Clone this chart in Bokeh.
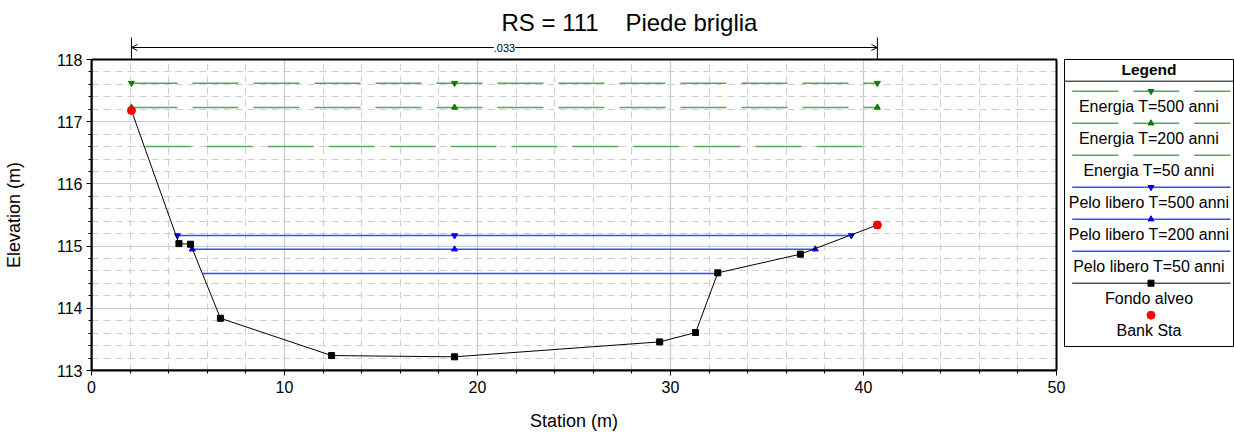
from bokeh.plotting import figure
from bokeh.models import Range1d, FixedTicker, Arrow, OpenHead, Label, LinearAxis
from bokeh.core.properties import value
from bokeh.embed import file_html
from bokeh.resources import INLINE

FONT = "Liberation Sans"

title_text = "RS = 111    Piede briglia"
x_label = "Station (m)"
y_label = "Elevation (m)"

# Ground profile (Fondo alveo)
ground_sta = [2.07, 4.53, 5.13, 6.68, 12.44, 18.81, 29.44, 31.30, 32.45, 36.73, 40.72]
ground_elev = [117.18, 115.04, 115.03, 113.84, 113.24, 113.22, 113.46, 113.61, 114.57, 114.87, 115.34]

# Bank stations
bank_sta = [2.07, 40.72]
bank_elev = [117.18, 115.34]
n_value = ".033"

# Energy grade lines
eg500_sta = [2.07, 18.81, 40.72]
eg500_elev = 117.62
eg200_sta = [2.07, 18.81, 40.72]
eg200_elev = 117.23
eg50_sta = [2.80, 40.20]
eg50_elev = 116.60

# Water surfaces
ws500_sta = [4.45, 18.81, 39.37]
ws500_elev = 115.17
ws200_sta = [5.22, 18.81, 37.50]
ws200_elev = 114.95
ws50_sta = [5.78, 32.45]
ws50_elev = 114.56

x_ticks = [0, 10, 20, 30, 40, 50]
y_ticks = [113, 114, 115, 116, 117, 118]
x_minor = list(range(0, 51, 2))
y_minor = [round(113 + 0.2 * i, 1) for i in range(26)]

legend_labels = ["Energia T=500 anni", "Energia T=200 anni", "Energia T=50 anni",
                 "Pelo libero T=500 anni", "Pelo libero T=200 anni", "Pelo libero T=50 anni",
                 "Fondo alveo", "Bank Sta"]

GREEN = "#55aa55"
GREEN_M = "#008000"
BLUE = "#4646ff"
BLUE_M = "#0000ff"
EG_DASH = "46 15"
NBSP = "\u00a0"

# page layout (pixels)
W, H = 1234, 436
FL, FR, FT, FB = 91, 1056, 59, 370      # plot box edges on the page
xmin, xmax = x_ticks[0], x_ticks[-1]
ymin, ymax = y_ticks[0], y_ticks[-1]
X_END = xmin + (xmax - xmin) * (W - FL) / (FR - FL)
Y_END = ymin + (ymax - ymin) * FB / (FB - FT)

p = figure(width=W, height=H, x_range=Range1d(xmin, X_END), y_range=Range1d(ymin, Y_END),
           toolbar_location=None, output_backend="svg", title=None,
           min_border_left=FL, min_border_right=0, min_border_top=0, min_border_bottom=H - FB)
p.extra_x_ranges = {"px": Range1d(FL, W)}
p.extra_y_ranges = {"py": Range1d(FB, 0)}
p.outline_line_color = None

p.xaxis.ticker = FixedTicker(ticks=x_ticks, minor_ticks=x_minor)
p.yaxis.ticker = FixedTicker(ticks=y_ticks, minor_ticks=y_minor)
p.xaxis.bounds = (xmin, xmax)
p.yaxis.bounds = (ymin, ymax)
for ax in (p.xaxis[0], p.yaxis[0]):
    ax.axis_line_color = "black"
    ax.axis_line_width = 2
    ax.major_tick_out = 5
    ax.major_tick_in = 0
    ax.minor_tick_out = 3
    ax.minor_tick_in = 0
    ax.major_tick_line_color = "black"
    ax.minor_tick_line_color = "black"
    ax.major_label_text_font = FONT
    ax.major_label_text_font_size = "16px"
    ax.major_label_text_color = "black"
p.xaxis.major_label_standoff = 5
p.yaxis.major_label_standoff = 4

# Axis titles: one labelled tick at the middle of each axis
x_mid = (xmin + xmax) / 2
y_mid = (ymin + ymax) / 2
xlab_axis = LinearAxis(ticker=FixedTicker(ticks=[x_mid]), major_label_overrides={x_mid: x_label},
                       axis_line_color=None, major_tick_line_color=None, major_tick_out=0,
                       major_tick_in=0, minor_tick_out=0, minor_tick_in=0,
                       major_label_standoff=15, major_label_text_font=FONT,
                       major_label_text_font_size="18px", major_label_text_color="black")
ylab_axis = LinearAxis(ticker=FixedTicker(ticks=[y_mid]), major_label_overrides={y_mid: y_label},
                       axis_line_color=None, major_tick_line_color=None, major_tick_out=0,
                       major_tick_in=0, minor_tick_out=0, minor_tick_in=0,
                       major_label_standoff=30, major_label_orientation="vertical",
                       major_label_text_font=FONT,
                       major_label_text_font_size="18px", major_label_text_color="black")
p.add_layout(xlab_axis, "below")
p.add_layout(ylab_axis, "left")

p.xgrid.bounds = (xmin, xmax)
p.ygrid.bounds = (ymin, ymax)
p.xgrid.cross_bounds = (ymin, ymax)
p.ygrid.cross_bounds = (xmin, xmax)
for g in (p.xgrid[0], p.ygrid[0]):
    g.grid_line_color = "#c8c8c8"
    g.grid_line_width = 1.2
    g.minor_grid_line_color = "#cfcfcf"
    g.minor_grid_line_dash = "7 5"
    g.minor_grid_line_width = 1

# Plot box
p.quad(left=[xmin], right=[xmax], bottom=[ymin], top=[ymax], fill_color=None,
       line_color="black", line_width=2)

# Energy lines
p.line(eg500_sta, [eg500_elev] * len(eg500_sta), line_color=GREEN, line_width=1.5, line_dash=EG_DASH)
p.scatter(eg500_sta, [eg500_elev] * len(eg500_sta), marker="inverted_triangle", size=6,
          fill_color=GREEN_M, line_color=GREEN_M)
p.line(eg200_sta, [eg200_elev] * len(eg200_sta), line_color=GREEN, line_width=1.5, line_dash=EG_DASH)
p.scatter(eg200_sta, [eg200_elev] * len(eg200_sta), marker="triangle", size=6,
          fill_color=GREEN_M, line_color=GREEN_M)
p.line(eg50_sta, [eg50_elev] * len(eg50_sta), line_color=GREEN, line_width=1.5, line_dash=EG_DASH)

# Water surfaces
p.line(ws500_sta, [ws500_elev] * len(ws500_sta), line_color=BLUE, line_width=1.5)
p.scatter(ws500_sta, [ws500_elev] * len(ws500_sta), marker="inverted_triangle", size=6,
          fill_color=BLUE_M, line_color=BLUE_M)
p.line(ws200_sta, [ws200_elev] * len(ws200_sta), line_color=BLUE, line_width=1.5)
p.scatter(ws200_sta, [ws200_elev] * len(ws200_sta), marker="triangle", size=6,
          fill_color=BLUE_M, line_color=BLUE_M)
p.line(ws50_sta, [ws50_elev] * len(ws50_sta), line_color=BLUE, line_width=1.5)

# Ground
p.line(ground_sta, ground_elev, line_color="black", line_width=1)
p.scatter(ground_sta, ground_elev, marker="square", size=6, fill_color="black", line_color="black")
p.scatter(bank_sta, bank_elev, marker="circle", size=8, fill_color="red", line_color="red")

# Manning n bracket above the plot box (x in stations, y in page pixels)
mid = (bank_sta[0] + bank_sta[1]) / 2
p.segment(x0=bank_sta, y0=[37, 37], x1=bank_sta, y1=[FT, FT], y_range_name="py",
          line_color="black", line_width=1)
for b in bank_sta:
    p.add_layout(Arrow(x_start=mid, y_start=47, x_end=b, y_end=47, y_range_name="py",
                       end=OpenHead(size=6, line_width=1, line_color="black"),
                       line_color="black", line_width=1))
p.add_layout(Label(x=mid, y=47, y_range_name="py", text=n_value, text_align="center",
                   text_baseline="middle", text_font=FONT, text_font_size="11px",
                   text_color="black", background_fill_color="white"))

# Title
p.text(x=[629], y=[22], text=[title_text.replace(" ", NBSP)], x_range_name="px", y_range_name="py",
       text_align="center", text_baseline="middle", text_font=value(FONT),
       text_font_size="24px", text_color="black")

# Legend panel (page pixel coordinates)
LL, LR, LT, LB = 1064, 1233, 59, 346
p.quad(left=[LL], right=[LR], top=[LT], bottom=[LB], x_range_name="px", y_range_name="py",
       fill_color="white", line_color="black", line_width=1)
p.segment(x0=[LL], y0=[80.7], x1=[LR], y1=[80.7], x_range_name="px", y_range_name="py",
          line_color="black", line_width=1)
lcx = (LL + LR) / 2
p.text(x=[lcx], y=[69], text=["Legend"], x_range_name="px", y_range_name="py",
       text_align="center", text_baseline="middle", text_font=value(FONT),
       text_font_size="15.5px", text_font_style="bold", text_color="black")

styles = [
    (GREEN, EG_DASH, "inverted_triangle", GREEN_M),
    (GREEN, EG_DASH, "triangle", GREEN_M),
    (GREEN, EG_DASH, None, None),
    (BLUE, "solid", "inverted_triangle", BLUE_M),
    (BLUE, "solid", "triangle", BLUE_M),
    (BLUE, "solid", None, None),
    ("black", "solid", "square", "black"),
    (None, "solid", "circle", "red"),
]
for i, (lc, dash, mk, mc) in enumerate(styles):
    yy = 90.7 + 32 * i
    if lc is not None:
        p.line([1071.7, 1230], [yy, yy], x_range_name="px", y_range_name="py",
               line_color=lc, line_width=1.5 if lc != "black" else 1, line_dash=dash)
    if mk is not None:
        p.scatter([1150.5], [yy], x_range_name="px", y_range_name="py", marker=mk,
                  size=8 if mk == "circle" else 6, fill_color=mc, line_color=mc)
p.text(x=[lcx] * len(legend_labels), y=[106 + 32 * i for i in range(len(legend_labels))],
       text=legend_labels, x_range_name="px", y_range_name="py",
       text_align="center", text_baseline="middle",
       text_font=value(FONT), text_font_size="16px", text_color="black")

open("out.html", "w").write(file_html(p, INLINE))
